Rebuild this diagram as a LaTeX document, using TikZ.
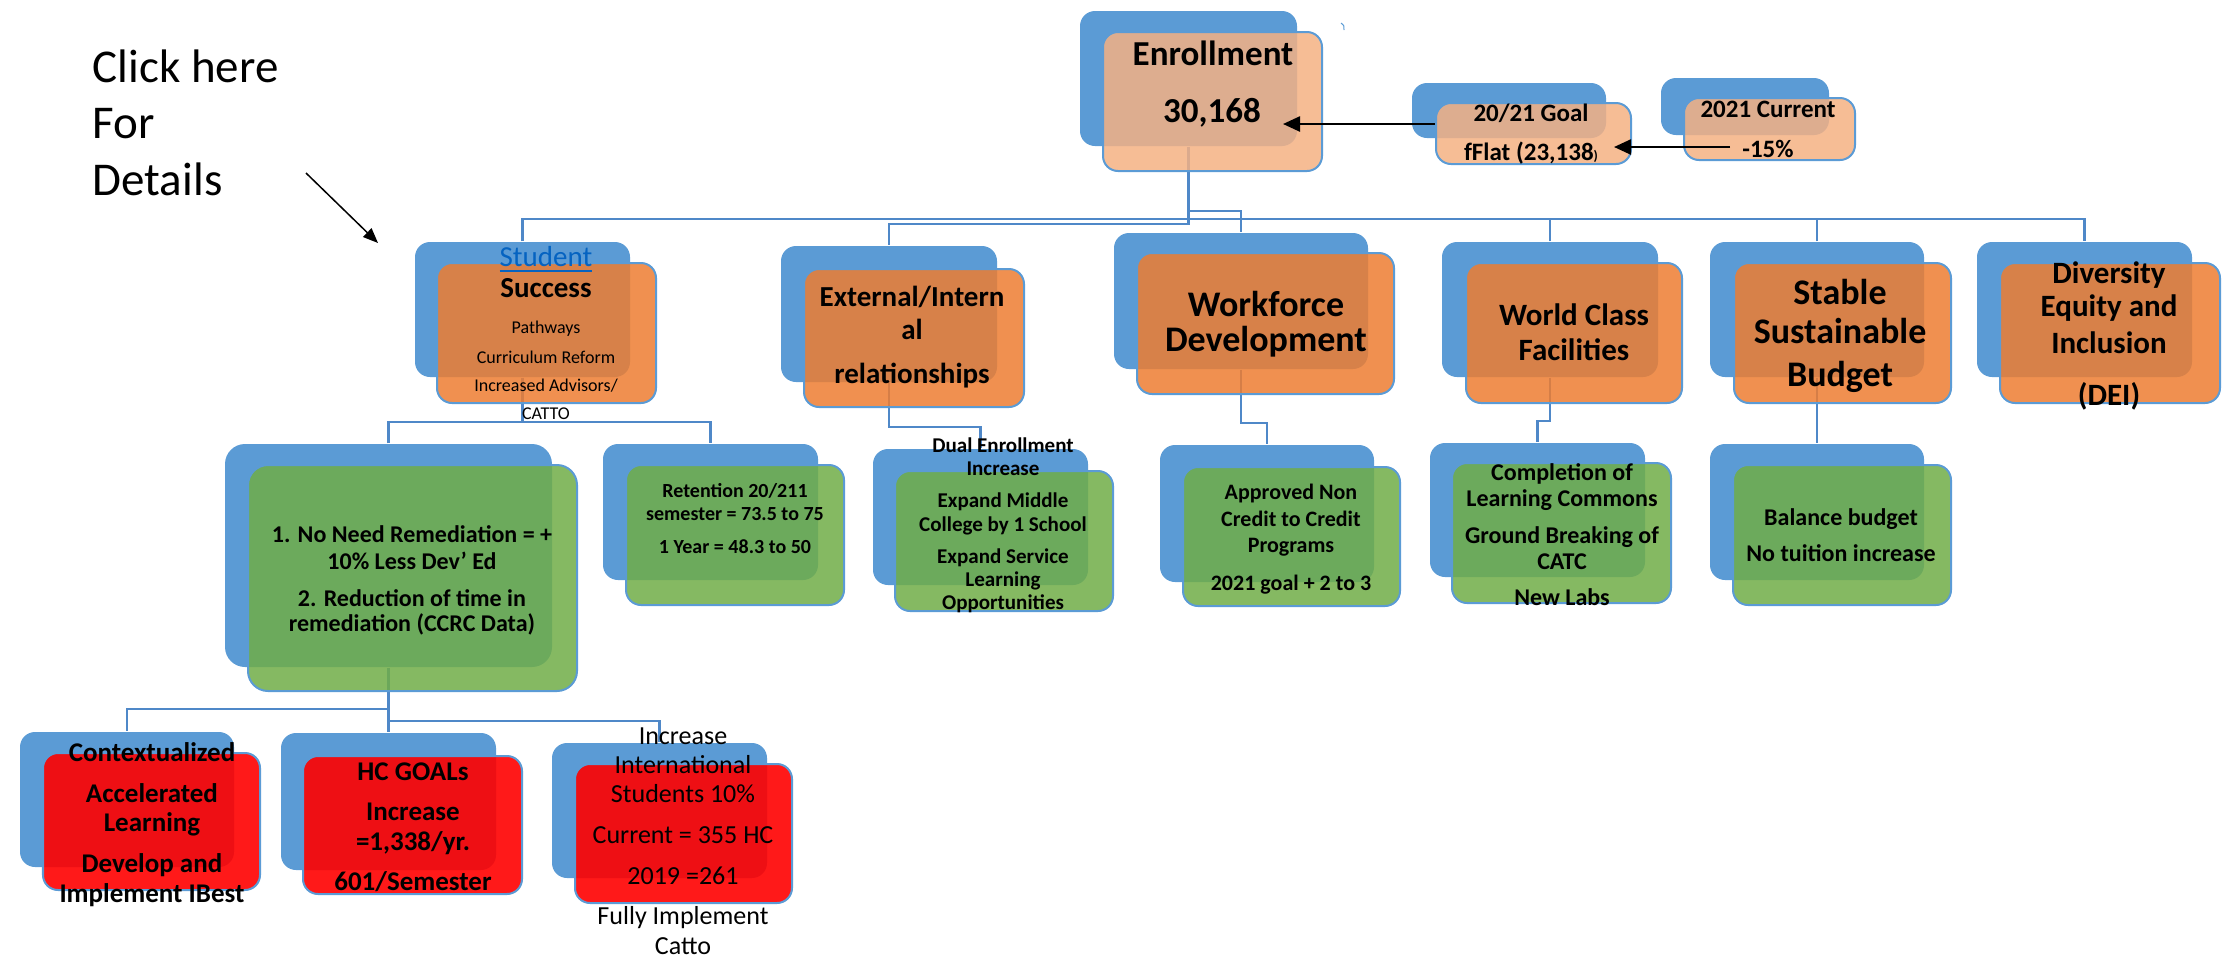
\documentclass[tikz,border=0pt]{standalone}
\usepackage{fontspec}
\setmainfont{Carlito}
\usetikzlibrary{fit,arrows.meta}
\definecolor{bb}{HTML}{5B9BD5}
\definecolor{peach}{HTML}{F4B183}
\definecolor{org}{HTML}{ED7D31}
\definecolor{grn}{HTML}{70AD47}
\definecolor{rd}{HTML}{FF0000}
\definecolor{ln}{HTML}{4F88C8}
\definecolor{lnk}{HTML}{0563C1}
\pgfdeclarelayer{bg}
\pgfsetlayers{bg,main}
\tikzset{
 back/.style={fill=bb, draw=none, rounded corners=0.15cm, inner sep=0pt},
 front/.style={draw=bb, line width=0.02cm, rounded corners=0.15cm, inner sep=0pt, fill opacity=0.85},
 fpeach/.style={front, fill=peach},
 forg/.style={front, fill=org},
 fgrn/.style={front, fill=grn},
 frd/.style={front, fill=rd, fill opacity=0.9},
 conn/.style={draw=ln, line width=0.025cm},
 arr/.style={line width=0.025cm, -{Triangle[length=0.17cm,width=0.15cm]}},
 arrthin/.style={line width=0.015cm, -{Triangle[length=0.15cm,width=0.12cm]}},
 bt/.style={anchor=base, inner sep=0pt, font=\fontsize{#1}{#1}\selectfont\bfseries},
 rt/.style={anchor=base, inner sep=0pt, font=\fontsize{#1}{#1}\selectfont},
}
\begin{document}
\begin{tikzpicture}[x=0.01cm,y=-0.01cm]
\useasboundingbox (0,0) rectangle (2229,966);

% ---- boxes ----
\node[back, fit={(1080,11) (1297,146)}] (enrB) {};
\node[fpeach, fit={(1103,32) (1322,171)}] (enrF) {};
\node[back, fit={(1412,83) (1606,138)}] (goalB) {};
\node[fpeach, fit={(1436,103) (1631,164)}] (goalF) {};
\node[back, fit={(1661,78) (1829,135)}] (curB) {};
\node[fpeach, fit={(1684,98) (1855,160)}] (curF) {};

\node[back, fit={(415,242) (630,377)}] (stuB) {};
\node[forg, fit={(437,263) (656,403)}] (stuF) {};
\node[back, fit={(781,246) (997,382)}] (extB) {};
\node[forg, fit={(804,269) (1024,407)}] (extF) {};
\node[back, fit={(1114,233) (1368,369)}] (wfB) {};
\node[forg, fit={(1137,253) (1394,394)}] (wfF) {};
\node[back, fit={(1442,242) (1658,377)}] (wcB) {};
\node[forg, fit={(1466,263) (1682,403)}] (wcF) {};
\node[back, fit={(1710,242) (1924,377)}] (stB) {};
\node[forg, fit={(1734,263) (1951,403)}] (stF) {};
\node[back, fit={(1977,242) (2192,377)}] (deiB) {};
\node[forg, fit={(2000,263) (2220,403)}] (deiF) {};

\node[back, rounded corners=0.2cm, fit={(225,444) (552,667)}] (remB) {};
\node[fgrn, rounded corners=0.2cm, fit={(248,465) (577,691)}] (remF) {};
\node[back, fit={(603,444) (818,580)}] (retB) {};
\node[fgrn, fit={(626,465) (844,605)}] (retF) {};
\node[back, fit={(873,449) (1088,585)}] (dualB) {};
\node[fgrn, fit={(895,471) (1113,611)}] (dualF) {};
\node[back, fit={(1160,445) (1374,582)}] (apB) {};
\node[fgrn, fit={(1183,467) (1400,606)}] (apF) {};
\node[back, fit={(1430,443) (1645,577)}] (compB) {};
\node[fgrn, fit={(1452,463) (1671,603)}] (compF) {};
\node[back, fit={(1710,444) (1924,580)}] (balB) {};
\node[fgrn, fit={(1733,465) (1951,605)}] (balF) {};

\node[back, fit={(20,732) (234,867)}] (ctxB) {};
\node[frd, fit={(43,753) (260,890)}] (ctxF) {};
\node[back, fit={(281,733) (496,870)}] (hcB) {};
\node[frd, fit={(303,756) (522,894)}] (hcF) {};
\node[back, fit={(552,743) (767,878)}] (intB) {};
\node[frd, fit={(575,764) (792,903)}] (intF) {};

% ---- connectors ----
\begin{pgfonlayer}{bg}
\coordinate (yA) at (0,211);
\coordinate (yB) at (0,219);
\coordinate (yC) at (0,224);
\draw[conn] (enrB.south) -- (enrB.south |- yC) -| (extB.north);
\draw[conn] (enrB.south |- yA) -| (wfB.north);
\draw[conn] (stuB.north) |- (deiB.north |- yB) -- (deiB.north);
\draw[conn] (wcB.north) -- (wcB.north |- yB);
\draw[conn] (stB.north) -- (stB.north |- yB);
\coordinate (yD) at (0,422);
\draw[conn] (stuB.south) -- (stuB.south |- yD);
\draw[conn] (remB.north) |- (retB.north |- yD) -- (retB.north);
\draw[conn] (extB.south) |- (dualB.north |- 0,427) -- (dualB.north);
\draw[conn] (wfB.south) |- (apB.north |- 0,423) -- (apB.north);
\draw[conn] (wcB.south) |- (compB.north |- 0,421) -- (compB.north);
\draw[conn] (stB.south) -- (balB.north);
\draw[conn] (remB.south) -- (hcB.north);
\draw[conn] (remB.south |- 0,709) -| (ctxB.north);
\draw[conn] (remB.south |- 0,721) -| (intB.north);
\end{pgfonlayer}

% ---- texts ----
\node[bt=9.96pt] (enr1) at (1213,65) {Enrollment};
\node[bt=9.96pt] (enr2) at (1212,122) {30,168};
\node[bt=7.11pt] (goal1) at (1531,121) {20/21 Goal};
\node[bt=7.11pt] (goal2) at (1531,160) {fFlat (23,138\scalebox{0.55}{)}};
\node[bt=7.11pt] (cur1) at (1768,117) {2021 Current};
\node[bt=7.11pt] (cur2) at (1768,157) {-15\%};

\node[rt=8.25pt, text=lnk] (stu1) at (546,266) {\underline{Student}};
\node[bt=8.25pt] (stu2) at (546,297) {Success};
\node[rt=5.12pt] (stu3) at (546,333) {Pathways};
\node[rt=5.12pt] (stu4) at (546,363) {Curriculum Reform};
\node[rt=5.12pt] (stu5) at (546,391) {Increased Advisors/};
\node[rt=5.12pt] (stu6) at (546,419) {CATTO};

\node[bt=8.25pt] (ext1) at (912,306) {External/Intern};
\node[bt=8.25pt] (ext2) at (912,339) {al};
\node[bt=8.25pt] (ext3) at (912,383) {relationships};

\node[bt=10.24pt] (wf1) at (1266,316) {Workforce};
\node[bt=10.24pt] (wf2) at (1266,351) {Development};

\node[bt=8.82pt] (wc1) at (1574,325) {World Class};
\node[bt=8.82pt] (wc2) at (1574,360) {Facilities};

\node[bt=10.24pt] (st1) at (1840,304) {Stable};
\node[bt=10.24pt] (st2) at (1840,343) {Sustainable};
\node[bt=10.24pt] (st3) at (1840,386) {Budget};

\node[bt=8.82pt] (dei1) at (2109,283) {Diversity};
\node[bt=8.82pt] (dei2) at (2109,316) {Equity and};
\node[bt=8.82pt] (dei3) at (2109,353) {Inclusion};
\node[bt=8.82pt] (dei4) at (2109,405) {(DEI)};

\node[bt=6.83pt] (rem1) at (412,542) {1. No Need Remediation = +};
\node[bt=6.83pt] (rem2) at (412,569) {10\% Less Dev’ Ed};
\node[bt=6.83pt] (rem3) at (412,606) {2. Reduction of time in};
\node[bt=6.83pt] (rem4) at (412,631) {remediation (CCRC Data)};

\node[bt=5.69pt] (ret1) at (735,497) {Retention 20/211};
\node[bt=5.69pt] (ret2) at (735,520) {semester = 73.5 to 75};
\node[bt=5.69pt] (ret3) at (735,553) {1 Year = 48.3 to 50};

\node[bt=5.98pt] (dual1) at (1003,452) {Dual Enrollment};
\node[bt=5.98pt] (dual2) at (1003,475) {Increase};
\node[bt=5.98pt] (dual3) at (1003,507) {Expand Middle};
\node[bt=5.98pt] (dual4) at (1003,531) {College by 1 School};
\node[bt=5.98pt] (dual5) at (1003,563) {Expand Service};
\node[bt=5.98pt] (dual6) at (1003,586) {Learning};
\node[bt=5.98pt] (dual7) at (1003,609) {Opportunities};

\node[bt=6.26pt] (ap1) at (1291,499) {Approved Non};
\node[bt=6.26pt] (ap2) at (1291,526) {Credit to Credit};
\node[bt=6.26pt] (ap3) at (1291,552) {Programs};
\node[bt=6.26pt] (ap4) at (1291,590) {2021 goal + 2 to 3};

\node[bt=6.83pt] (comp1) at (1562,480) {Completion of};
\node[bt=6.83pt] (comp2) at (1562,506) {Learning Commons};
\node[bt=6.83pt] (comp3) at (1562,543) {Ground Breaking of};
\node[bt=6.83pt] (comp4) at (1562,569) {CATC};
\node[bt=6.83pt] (comp5) at (1562,605) {New Labs};

\node[bt=6.83pt] (bal1) at (1841,525) {Balance budget};
\node[bt=6.83pt] (bal2) at (1841,561) {No tuition increase};

\node[bt=7.68pt] (ctx1) at (152,761) {Contextualized};
\node[bt=7.68pt] (ctx2) at (152,802) {Accelerated};
\node[bt=7.68pt] (ctx3) at (152,831) {Learning};
\node[bt=7.68pt] (ctx4) at (152,872) {Develop and};
\node[bt=7.68pt] (ctx5) at (152,902) {Implement IBest};

\node[bt=7.68pt] (hc1) at (413,780) {HC GOALs};
\node[bt=7.68pt] (hc2) at (413,820) {Increase};
\node[bt=7.68pt] (hc3) at (413,850) {=1,338/yr.};
\node[bt=7.68pt] (hc4) at (413,890) {601/Semester};

\node[rt=7.40pt] (int1) at (683,744) {Increase};
\node[rt=7.40pt] (int2) at (683,773) {International};
\node[rt=7.40pt] (int3) at (683,802) {Students 10\%};
\node[rt=7.40pt] (int4) at (683,843) {Current = 355 HC};
\node[rt=7.40pt] (int5) at (683,884) {2019 =261};
\node[rt=7.40pt] (int6) at (683,924) {Fully Implement};
\node[rt=7.40pt] (int7) at (683,954) {Catto};

\node[rt=13.37pt, anchor=base west] (clk1) at (92,82) {Click here};
\node[rt=13.37pt, anchor=base west] (clk2) at (92,138) {For};
\node[rt=13.37pt, anchor=base west] (clk3) at (92,195) {Details};

% ---- arrows ----
\coordinate (a1e) at (1283,124);
\coordinate (a2s) at (1730,147);
\coordinate (a2e) at (1614,147);
\draw[arr] (goalF.west |- a1e) -- (a1e);
\draw[arr] (a2s) -- (a2e);
\coordinate (c1) at (306,173);
\coordinate (c2) at (378,243);
\draw[arrthin] (c1) -- (c2);

% stray mark
\draw[bb, line width=0.01cm] (1341,23) .. controls (1344,25) .. (1344,30);
\end{tikzpicture}
\end{document}
